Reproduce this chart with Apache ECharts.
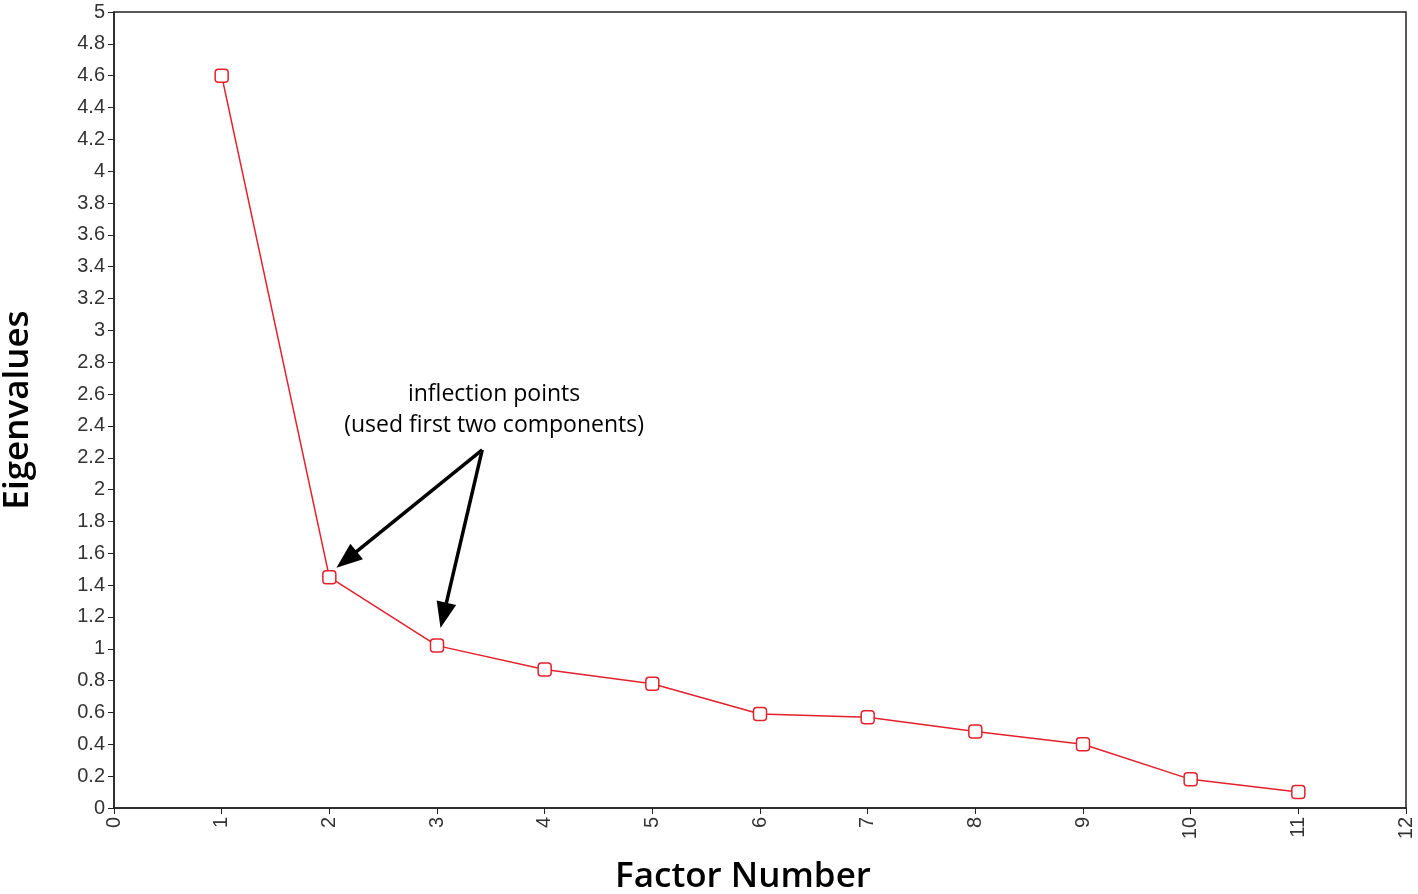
<!DOCTYPE html>
<html>
<head>
<meta charset="utf-8">
<script src="https://cdn.jsdelivr.net/npm/echarts@6/dist/echarts.min.js"></script>
<style>
html, body { margin: 0; padding: 0; background: #fff; }
#main { width: 1418px; height: 894px; }
</style>
</head>
<body>
<div id="main"></div>
<script>
var factors = [1, 2, 3, 4, 5, 6, 7, 8, 9, 10, 11];
var eigenvalues = [4.6, 1.45, 1.02, 0.87, 0.78, 0.59, 0.57, 0.48, 0.40, 0.18, 0.10];
var noteLines = ['inflection points', '(used first two components)'];
// arrow tail and the two arrowhead centres, in data units
var arrowTail = [3.42, 2.25];
var arrowTips = [[2.16, 1.56], [3.06, 1.21]];

var myChart = echarts.init(document.getElementById('main'));

var option = {
    animation: false,
    grid: {
        left: 114,
        right: 12,
        top: 12,
        bottom: 86,
        outerBoundsMode: 'none',
        show: true,
        borderColor: '#222',
        borderWidth: 1.5
    },
    xAxis: {
        type: 'value',
        min: 0,
        max: 12,
        interval: 1,
        name: 'Factor Number',
        nameLocation: 'middle',
        nameGap: 52,
        nameTextStyle: {
            fontFamily: 'Open Sans', fontSize: 35, fontWeight: 600, color: '#000',
            padding: [0, 34, 0, 0]
        },
        splitLine: { show: false },
        axisLine: { lineStyle: { color: '#222', width: 1.5 } },
        axisTick: { length: 6, lineStyle: { color: '#222' } },
        axisLabel: { rotate: 90, fontFamily: 'Arial', fontSize: 20, color: '#333', margin: 9 }
    },
    yAxis: {
        type: 'value',
        min: 0,
        max: 5,
        interval: 0.2,
        name: 'Eigenvalues',
        nameLocation: 'middle',
        nameGap: 78,
        nameTextStyle: { fontFamily: 'Open Sans', fontSize: 35, fontWeight: 600, color: '#000' },
        splitLine: { show: false },
        axisLine: { show: true, lineStyle: { color: '#222', width: 1.5 } },
        axisTick: { show: true, length: 6, lineStyle: { color: '#222' } },
        axisLabel: {
            fontFamily: 'Arial', fontSize: 20, color: '#333', margin: 9,
            formatter: function (v) { return String(Math.round(v * 10) / 10); }
        }
    },
    series: [{
        type: 'line',
        data: factors.map(function (f, i) { return [f, eigenvalues[i]]; }),
        symbol: 'roundRect',
        symbolSize: 13,
        showAllSymbol: true,
        itemStyle: { color: '#fff', borderColor: '#e3202c', borderWidth: 1.5 },
        lineStyle: { color: '#e3202c', width: 1.5 },
        markLine: {
            silent: true,
            symbol: ['none', 'triangle'],
            symbolSize: [20, 26],
            label: { show: false },
            lineStyle: { color: '#000', width: 3.5, type: 'solid' },
            data: arrowTips.map(function (t) {
                return [{ coord: arrowTail }, { coord: t }];
            })
        }
    }]
};
myChart.setOption(option);

var textPos = myChart.convertToPixel({ gridIndex: 0 }, [3.53, 2.5]);
myChart.setOption({
    graphic: [{
        type: 'text',
        x: textPos[0],
        y: textPos[1],
        style: {
            text: noteLines.join('\n'),
            fontFamily: 'Open Sans',
            fontSize: 23,
            fontWeight: 500,
            lineHeight: 31,
            fill: '#000',
            align: 'center',
            verticalAlign: 'middle'
        }
    }]
});

window.onresize = function () {
    myChart.resize();
};
</script>
</body>
</html>
